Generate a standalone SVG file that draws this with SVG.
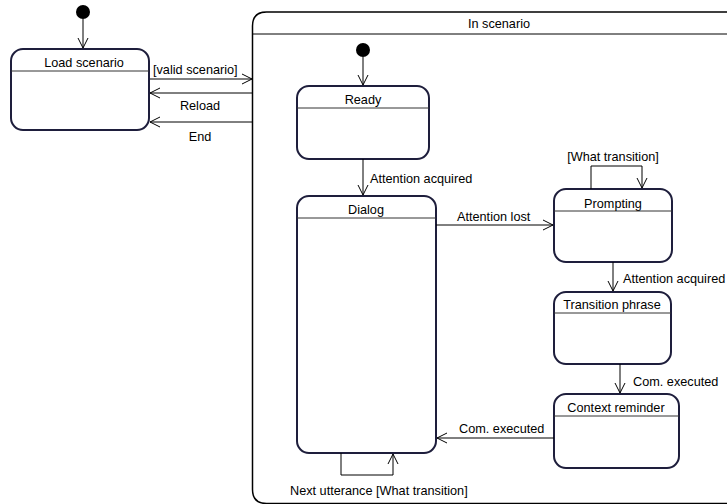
<svg xmlns="http://www.w3.org/2000/svg" width="727" height="504" viewBox="0 0 727 504">
<style>
.node{fill:#fff;stroke:#1e1e3c;stroke-width:2}
.div{stroke:#333;stroke-width:1}
.frame{fill:#fff;stroke:#000;stroke-width:1.5}
.edge{fill:none;stroke:#000;stroke-width:1}
text{font-family:"Liberation Sans",Arial,sans-serif;font-size:12.7px;fill:#000}
.c{text-anchor:middle}
</style>
<defs>
<marker id="arr" viewBox="0 0 12 12" refX="11" refY="6" markerWidth="12" markerHeight="12" markerUnits="userSpaceOnUse" orient="auto">
<path d="M1,1 L11,6 L1,11" fill="none" stroke="#000" stroke-width="1"/>
</marker>
</defs>
<rect width="727" height="504" fill="#fff"/>
<g id="frame-in-scenario">
<path class="frame" d="M740,503.5 L266.5,503.5 Q252.5,503.5 252.5,489.5 L252.5,26 Q252.5,12 266.5,12 L740,12"/>
<line x1="252.5" y1="34" x2="740" y2="34" stroke="#000" stroke-width="1"/>
<text x="499" y="28" class="c">In scenario</text>
</g>
<g id="init-outer"><circle cx="83" cy="12" r="7" fill="#000"/></g>
<g id="load-scenario">
<rect class="node" x="11" y="49" width="138" height="81" rx="12"/>
<line class="div" x1="11" y1="71" x2="149" y2="71"/>
<text x="84" y="67" class="c">Load scenario</text>
</g>
<g id="init-inner"><circle cx="363" cy="50" r="7" fill="#000"/></g>
<g id="ready">
<rect class="node" x="297" y="86" width="132" height="73" rx="12"/>
<line class="div" x1="297" y1="108" x2="429" y2="108"/>
<text x="363" y="104" class="c">Ready</text>
</g>
<g id="dialog">
<rect class="node" x="297" y="196" width="139" height="257" rx="12"/>
<line class="div" x1="297" y1="218" x2="436" y2="218"/>
<text x="366" y="214" class="c">Dialog</text>
</g>
<g id="prompting">
<rect class="node" x="554" y="189" width="118" height="73" rx="12"/>
<line class="div" x1="554" y1="211" x2="672" y2="211"/>
<text x="613" y="208" class="c">Prompting</text>
</g>
<g id="transition-phrase">
<rect class="node" x="554" y="292" width="117" height="72" rx="12"/>
<line class="div" x1="554" y1="313" x2="671" y2="313"/>
<text x="612" y="309" class="c">Transition phrase</text>
</g>
<g id="context-reminder">
<rect class="node" x="554" y="394" width="125" height="74" rx="12"/>
<line class="div" x1="554" y1="416" x2="679" y2="416"/>
<text x="616" y="412" class="c">Context reminder</text>
</g>
<g id="connectors">
<line class="edge" x1="83" y1="19" x2="83" y2="48" marker-end="url(#arr)"/>
<line class="edge" x1="150" y1="79" x2="252" y2="79" marker-end="url(#arr)"/>
<text x="153" y="74">[valid scenario]</text>
<line class="edge" x1="252" y1="93" x2="150" y2="93" marker-end="url(#arr)"/>
<text x="200" y="110" class="c">Reload</text>
<line class="edge" x1="252" y1="122" x2="150" y2="122" marker-end="url(#arr)"/>
<text x="200" y="141" class="c">End</text>
<line class="edge" x1="363" y1="57" x2="363" y2="85" marker-end="url(#arr)"/>
<line class="edge" x1="363" y1="159" x2="363" y2="195" marker-end="url(#arr)"/>
<text x="370" y="183">Attention acquired</text>
<line class="edge" x1="436" y1="225" x2="553" y2="225" marker-end="url(#arr)"/>
<text x="457" y="221">Attention lost</text>
<path class="edge" d="M591,189 L591,166 L642,166 L642,188" marker-end="url(#arr)"/>
<text x="613" y="161" class="c">[What transition]</text>
<line class="edge" x1="613" y1="262" x2="613" y2="291" marker-end="url(#arr)"/>
<text x="623" y="283">Attention acquired</text>
<line class="edge" x1="620" y1="364" x2="620" y2="393" marker-end="url(#arr)"/>
<text x="633" y="386">Com. executed</text>
<line class="edge" x1="554" y1="438" x2="437" y2="438" marker-end="url(#arr)"/>
<text x="459" y="433">Com. executed</text>
<path class="edge" d="M341,453 L341,475 L393,475 L393,454" marker-end="url(#arr)"/>
<text x="290" y="495">Next utterance [What transition]</text>
</g>
</svg>
